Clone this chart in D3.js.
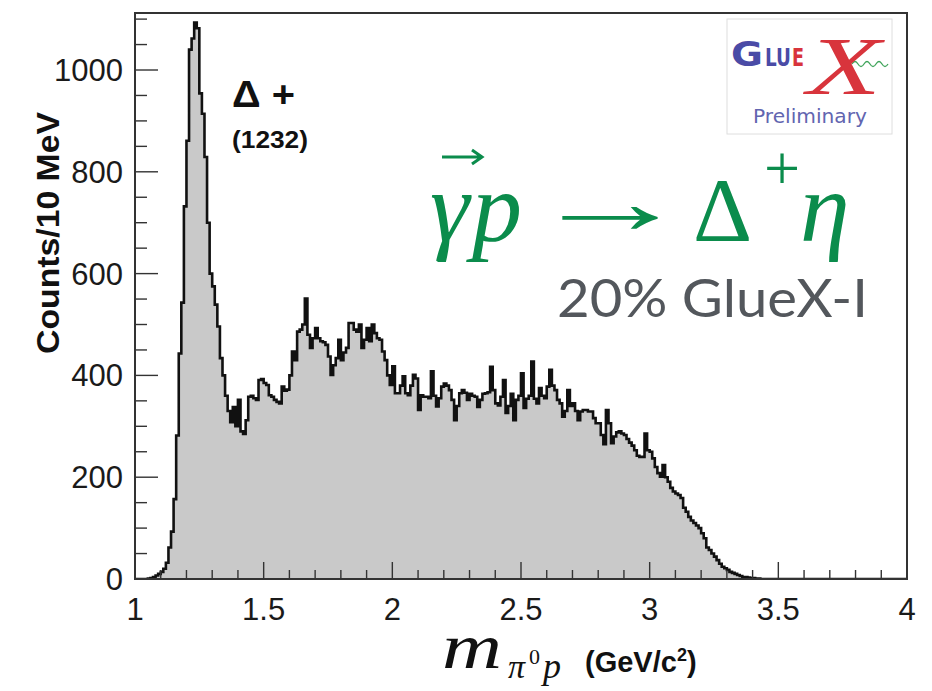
<!DOCTYPE html>
<html>
  <head>
    <meta charset="utf-8">
    <script src="https://cdn.jsdelivr.net/npm/d3@7"></script>
    <style>
      body { margin: 0; background: white; }
      svg { display: block; }
    </style>
  </head>
  <body>
    <script>
      // invariant mass of pi0 p, 10 MeV bins from 1.00 to 4.00 GeV
      const binLow = 1.0
      const binWidth = 0.01
      const counts = [
        0, 0, 0, 0, 0, 1, 2, 4, 7, 10, 14, 20,
        32, 62, 93, 157, 282, 443, 543, 732, 861,
        1040, 1062, 1093, 1082,
        954, 914, 829, 700, 600, 575, 539, 496,
        434, 400, 360, 330, 308,
        338, 300, 352, 290, 285, 312, 358, 360, 355, 352, 391, 393, 385, 381, 361, 358, 352, 348, 345, 378, 370, 372,
        400, 447, 430, 486, 490, 500, 551, 480, 454, 473, 493, 473, 467, 465, 460, 437, 401, 420, 434, 470, 430,
        445, 454, 503, 503, 490, 486, 500, 454, 470, 493, 467, 500, 483, 473, 470, 447, 430, 400, 381, 418,
        365, 365, 380, 398, 365, 361, 380, 401, 394, 332, 361, 358, 358, 355, 408, 360, 339, 355, 378, 384,
        380, 371, 352, 312, 340, 365, 371, 366, 352,
        364, 360, 358, 338, 352, 364, 365, 367, 417, 371, 345, 341, 358, 391, 326, 340, 364, 312, 352, 360, 404,
        336, 354, 360, 427, 354, 345, 375, 360, 355, 378, 411, 380, 371, 352, 345, 319, 330, 371, 340, 345,
        330, 312, 329, 332, 332, 329, 329, 316, 306, 306,
        283, 265, 332, 306, 267, 280, 288, 290, 286, 283, 275, 268, 262, 253, 242, 240, 240, 286, 253, 250,
        237, 220, 208, 201, 224, 200, 191, 179, 172, 168, 165, 159, 140, 132, 122, 115, 110, 105, 100, 90,
        80, 62, 57, 50, 44, 37, 30, 24, 21, 18, 14, 12, 10, 8, 6, 4, 4, 3, 2, 2,
        1, 1, 0, 0, 0, 0, 0, 0, 0, 0, 0, 0, 0, 0, 0, 0, 0, 0, 0, 0,
        0, 0, 0, 0, 0, 0, 0, 0, 0, 0, 0, 0, 0, 0, 0, 0, 0, 0, 0, 0,
        0, 0, 0, 0, 0, 0, 0, 0, 0, 0, 0, 0, 0, 0, 0, 0, 0, 0, 0
      ]
      const xTickLabels = ['1', '1.5', '2', '2.5', '3', '3.5', '4']
      const yTickLabels = ['0', '200', '400', '600', '800', '1000']

      const W = 932, H = 691
      const frame = {left: 135, right: 907, top: 13, bottom: 579}

      const x = d3.scaleLinear().domain([1, 4]).range([frame.left, frame.right])
      const y = d3.scaleLinear().domain([0, 1112]).range([frame.bottom, frame.top])

      const svg = d3.select('body').append('svg')
        .attr('width', W).attr('height', H)
        .attr('viewBox', `0 0 ${W} ${H}`)

      svg.append('rect')
        .attr('x', frame.left).attr('y', frame.top)
        .attr('width', frame.right - frame.left)
        .attr('height', frame.bottom - frame.top)
        .attr('fill', 'white')

      svg.append('clipPath').attr('id', 'plot')
        .append('rect')
        .attr('x', frame.left).attr('y', frame.top)
        .attr('width', frame.right - frame.left)
        .attr('height', frame.bottom - frame.top)

      // histogram as steps
      const pts = counts.map((c, i) => [binLow + i * binWidth, c])
      pts.push([binLow + counts.length * binWidth, counts[counts.length - 1]])

      const area = d3.area()
        .x(d => x(d[0])).y0(y(0)).y1(d => y(d[1]))
        .curve(d3.curveStepAfter)
      const line = d3.line()
        .x(d => x(d[0])).y(d => y(d[1]))
        .curve(d3.curveStepAfter)

      const g = svg.append('g').attr('clip-path', 'url(#plot)')
      g.append('path').attr('d', area(pts)).attr('fill', '#c9c9c9')
      g.append('path').attr('d', line(pts))
        .attr('fill', 'none').attr('stroke', '#111')
        .attr('stroke-width', 2.6).attr('stroke-linejoin', 'miter')

      // ticks (inside, ROOT style)
      const ticks = svg.append('g').attr('stroke', '#333').attr('stroke-width', 1.4)
      d3.range(0, 1101, 50).forEach(v => {
        const len = v % 200 === 0 ? 23 : 12
        ticks.append('line')
          .attr('x1', frame.left).attr('x2', frame.left + len)
          .attr('y1', y(v)).attr('y2', y(v))
      })
      d3.range(0, 31).forEach(k => {
        const v = 1 + k * 0.1
        const len = k % 5 === 0 ? 17 : 9
        ticks.append('line')
          .attr('x1', x(v)).attr('x2', x(v))
          .attr('y1', frame.bottom).attr('y2', frame.bottom - len)
      })

      // frame
      svg.append('rect')
        .attr('x', frame.left).attr('y', frame.top)
        .attr('width', frame.right - frame.left)
        .attr('height', frame.bottom - frame.top)
        .attr('fill', 'none').attr('stroke', '#333').attr('stroke-width', 2)

      // tick labels
      const lab = svg.append('g')
        .attr('font-family', 'Liberation Sans, Arial, sans-serif')
        .attr('font-size', 31).attr('fill', '#1a1a1a')
      yTickLabels.forEach(t => {
        lab.append('text')
          .attr('x', 123).attr('y', y(+t) + 11)
          .attr('text-anchor', 'end').text(t)
      })
      xTickLabels.forEach(t => {
        lab.append('text')
          .attr('x', x(+t)).attr('y', 620)
          .attr('text-anchor', 'middle').text(t)
      })

      // axis titles
      svg.append('text')
        .attr('transform', 'translate(59,233) rotate(-90)')
        .attr('text-anchor', 'middle')
        .attr('font-family', 'Liberation Sans Narrow, Liberation Sans, Arial, sans-serif')
        .attr('font-weight', 'bold').attr('font-size', 32)
        .attr('textLength', 242).attr('lengthAdjust', 'spacingAndGlyphs')
        .attr('fill', '#111')
        .text('Counts/10 MeV')

      const xt = svg.append('text')
        .attr('y', 668)
        .attr('font-family', 'Liberation Serif, serif')
        .attr('fill', '#111')
      xt.append('tspan').attr('x', 442).attr('font-style', 'italic')
        .attr('font-size', 64).attr('textLength', 60).attr('lengthAdjust', 'spacingAndGlyphs')
        .text('m')
      xt.append('tspan').attr('x', 508).attr('y', 678).attr('font-style', 'italic')
        .attr('font-size', 34).text('π')
      xt.append('tspan').attr('x', 529).attr('y', 664)
        .attr('font-size', 22).text('0')
      xt.append('tspan').attr('x', 543).attr('y', 678).attr('font-style', 'italic')
        .attr('font-size', 36).text('p')

      const unit = svg.append('text')
        .attr('x', 585).attr('y', 672)
        .attr('font-family', 'Liberation Sans, Arial, sans-serif')
        .attr('font-weight', 'bold').attr('font-size', 29).attr('fill', '#111')
      unit.append('tspan').text('(GeV/c')
      unit.append('tspan').attr('dy', -11).attr('font-size', 18).text('2')
      unit.append('tspan').attr('dy', 11).text(')')

      // Delta(1232) label
      svg.append('text')
        .attr('x', 232).attr('y', 107)
        .attr('font-family', 'Liberation Sans, Arial, sans-serif')
        .attr('font-weight', 'bold').attr('font-size', 37).attr('fill', '#111')
        .attr('textLength', 63).attr('lengthAdjust', 'spacingAndGlyphs')
        .text('Δ +')
      svg.append('text')
        .attr('x', 232).attr('y', 148)
        .attr('font-family', 'Liberation Sans, Arial, sans-serif')
        .attr('font-weight', 'bold').attr('font-size', 24).attr('fill', '#111')
        .attr('textLength', 76).attr('lengthAdjust', 'spacingAndGlyphs')
        .text('(1232)')

      // reaction
      const green = '#0b8c4c'
      const rx = svg.append('text')
        .attr('y', 241)
        .attr('font-family', 'Liberation Serif, serif')
        .attr('font-size', 100).attr('fill', green)
      rx.append('tspan').attr('x', 430).attr('font-style', 'italic').text('γ')
      rx.append('tspan').attr('x', 472).attr('font-style', 'italic').text('p')
      rx.append('tspan').attr('x', 693).attr('font-size', 92).text('Δ')
      rx.append('tspan').attr('x', 764).attr('y', 190).attr('font-size', 64).text('+')
      rx.append('tspan').attr('x', 800).attr('y', 241).attr('font-style', 'italic').text('η')
      svg.append('text')
        .attr('transform', 'translate(610,233) scale(1.75,1)')
        .attr('text-anchor', 'middle')
        .attr('font-family', 'Liberation Serif, serif')
        .attr('font-size', 92).attr('fill', green)
        .text('→')
      svg.append('path')
        .attr('d', 'M442,157 L481,157 M472,150 L482,157 L472,164')
        .attr('fill', 'none').attr('stroke', green).attr('stroke-width', 3)

      svg.append('text')
        .attr('x', 557).attr('y', 317)
        .attr('font-family', 'Lato, Open Sans, sans-serif')
        .attr('font-size', 52).attr('fill', '#53575c')
        .attr('textLength', 311).attr('lengthAdjust', 'spacingAndGlyphs')
        .text('20% GlueX-I')

      // GlueX preliminary logo
      const logo = svg.append('g')
      logo.append('rect')
        .attr('x', 727).attr('y', 19).attr('width', 165).attr('height', 115)
        .attr('fill', 'white').attr('stroke', '#dedede').attr('stroke-width', 1)
      const blue = '#4a4ba6'
      logo.append('path')
        .attr('d', 'M852,64 q3,-5 6,0 t6,0 t6,0 t6,0 t6,0 t6,0')
        .attr('fill', 'none').attr('stroke', '#3fa45a').attr('stroke-width', 1.3)
      logo.append('text').attr('x', 731).attr('y', 66)
        .attr('font-family', 'DejaVu Sans, sans-serif').attr('font-weight', 'bold')
        .attr('font-size', 34).attr('fill', blue)
        .attr('textLength', 32).attr('lengthAdjust', 'spacingAndGlyphs')
        .text('G')
      logo.append('text').attr('x', 765).attr('y', 66)
        .attr('font-family', 'DejaVu Sans, sans-serif').attr('font-weight', 'bold')
        .attr('font-size', 25).attr('fill', blue)
        .attr('textLength', 26).attr('lengthAdjust', 'spacingAndGlyphs')
        .text('LU')
      logo.append('text').attr('x', 792).attr('y', 66)
        .attr('font-family', 'DejaVu Sans, sans-serif').attr('font-weight', 'bold')
        .attr('font-size', 25).attr('fill', '#d8343c')
        .attr('textLength', 12).attr('lengthAdjust', 'spacingAndGlyphs')
        .text('E')
      logo.append('text')
        .attr('x', 807).attr('y', 94)
        .attr('font-family', 'Liberation Serif, serif').attr('font-style', 'italic')
        .attr('font-size', 82).attr('fill', '#d8343c')
        .attr('textLength', 74).attr('lengthAdjust', 'spacingAndGlyphs')
        .text('X')
      logo.append('text')
        .attr('x', 810).attr('y', 123).attr('text-anchor', 'middle')
        .attr('font-family', 'DejaVu Sans, sans-serif')
        .attr('font-size', 20).attr('fill', '#6265b0')
        .attr('textLength', 114).attr('lengthAdjust', 'spacingAndGlyphs')
        .text('Preliminary')
    </script>
  </body>
</html>
